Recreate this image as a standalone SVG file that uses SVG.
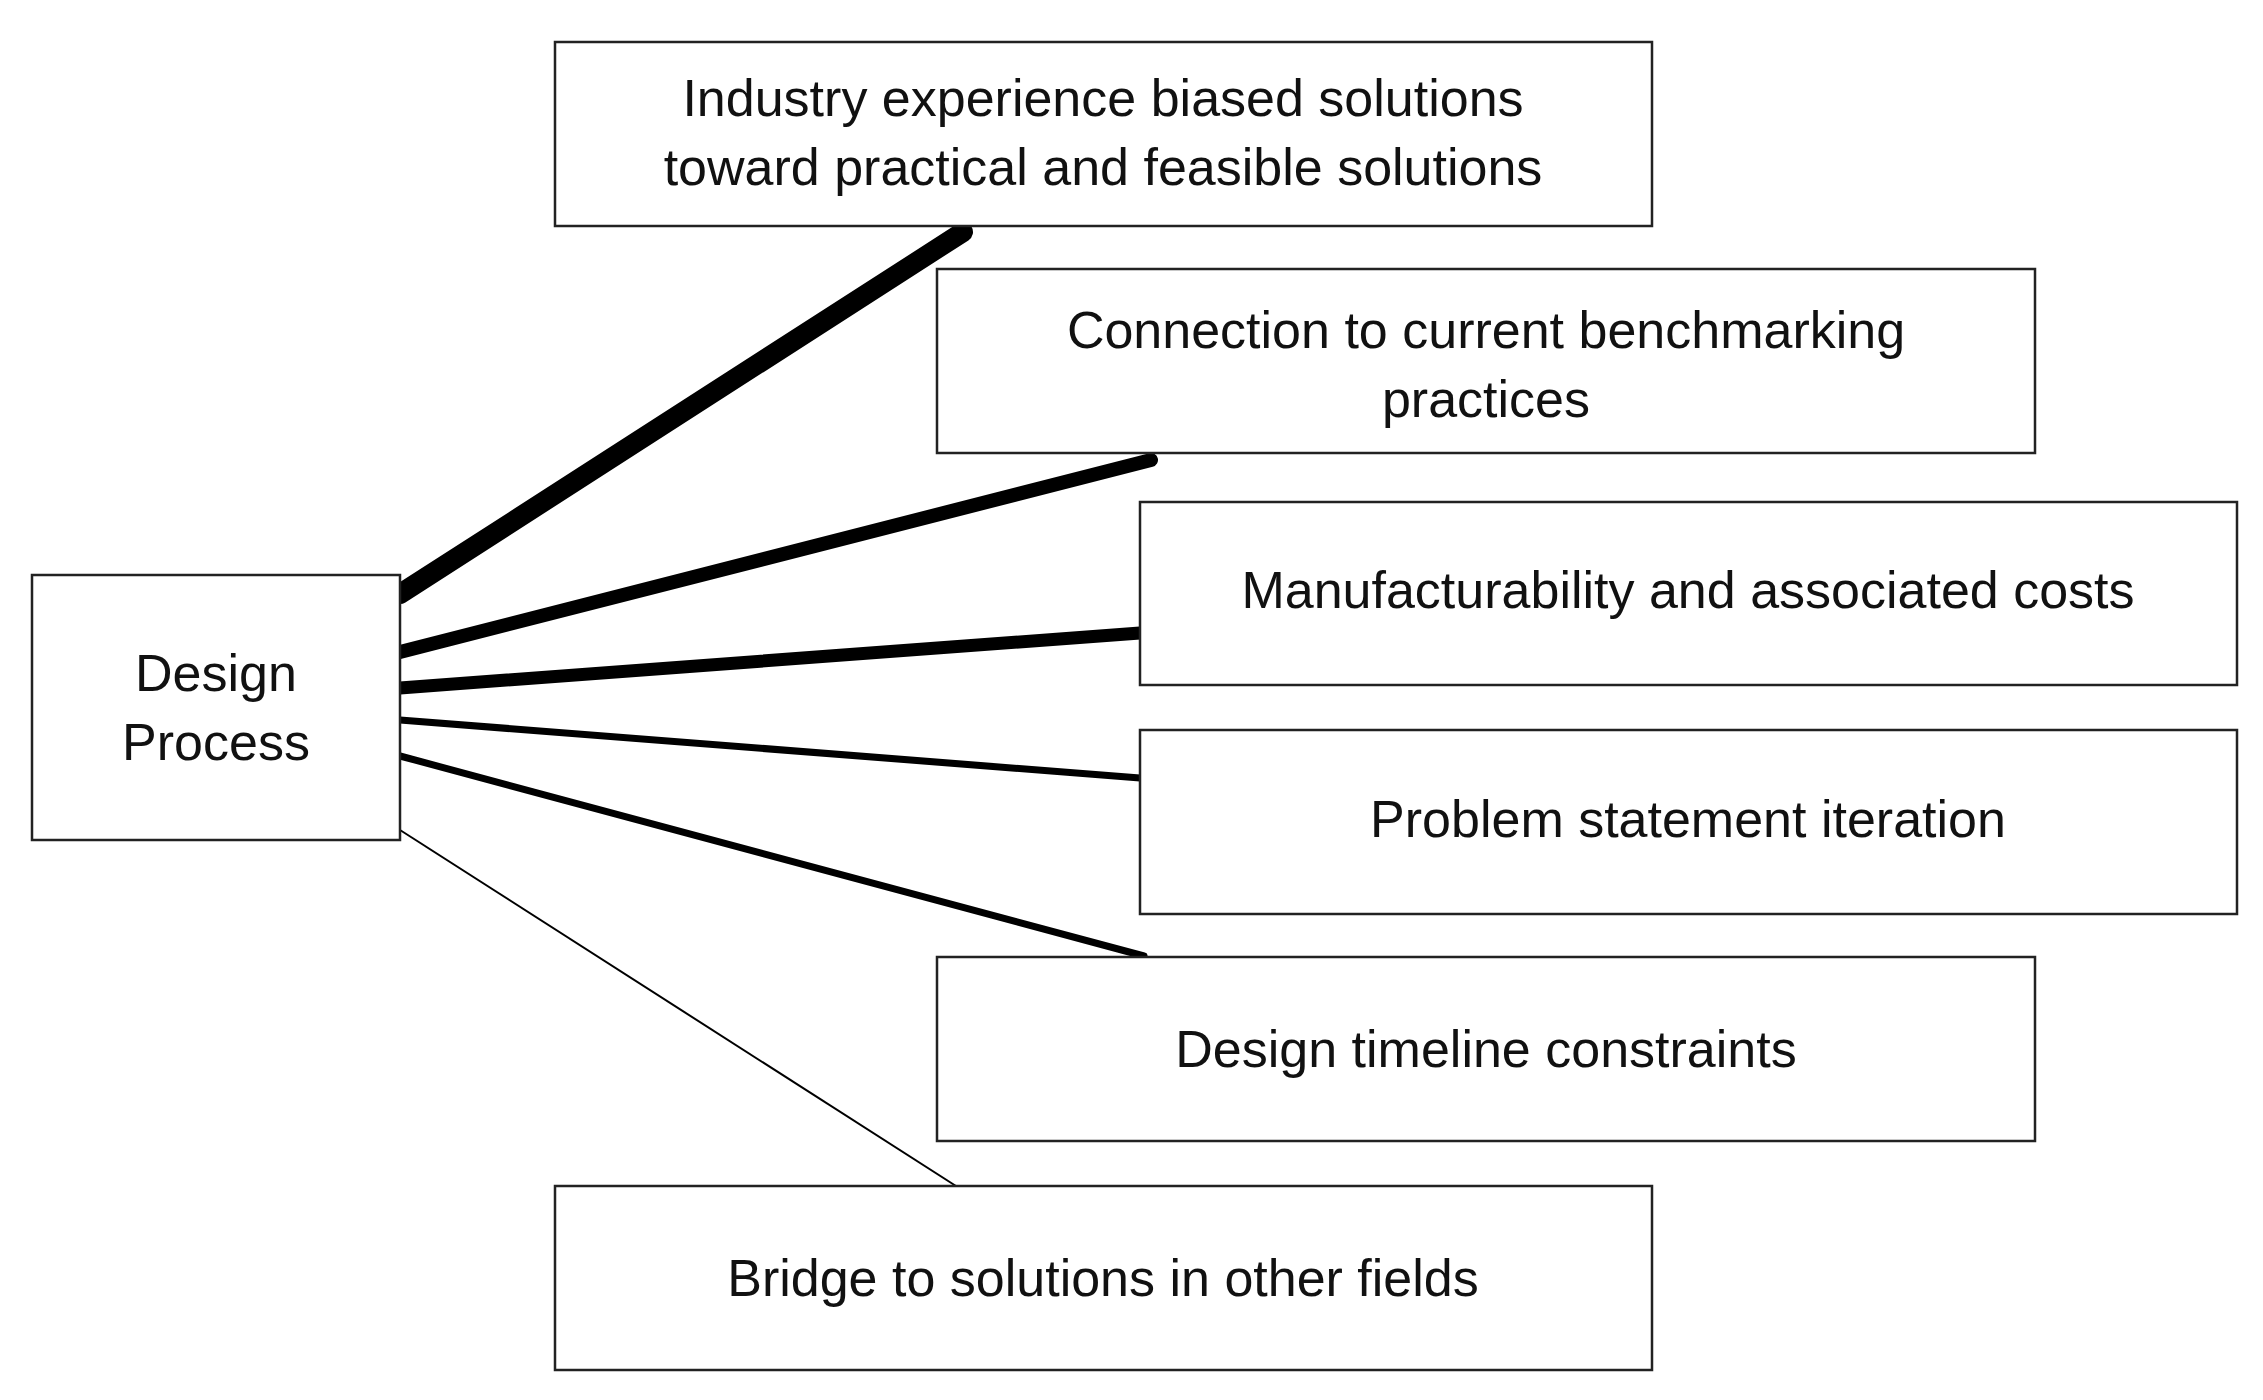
<svg xmlns="http://www.w3.org/2000/svg" width="2263" height="1400" viewBox="0 0 2263 1400">
<style>
rect{fill:#fff;stroke:#222;stroke-width:2.5}
text{font-family:"Liberation Sans",Arial,sans-serif;font-size:52px;fill:#111;text-anchor:middle}
.c line{stroke:#000;stroke-linecap:round}
</style>
<rect width="2263" height="1400" style="stroke:none"/>
<g class="c" id="connectors">
<line x1="400" y1="594" x2="963" y2="232" stroke-width="20"/>
<line x1="400" y1="652" x2="1151" y2="460" stroke-width="14"/>
<line x1="400" y1="688" x2="1140" y2="633" stroke-width="13"/>
<line x1="400" y1="720" x2="1140" y2="778" stroke-width="7"/>
<line x1="400" y1="756" x2="1144" y2="956" stroke-width="7"/>
<line x1="400" y1="830" x2="956" y2="1186" stroke-width="2" style="stroke-linecap:butt"/>
</g>
<g id="design"><rect x="32" y="575" width="368" height="265"/><text x="216" y="691">Design</text><text x="216" y="760">Process</text></g>
<g id="n1"><rect x="555" y="42" width="1097" height="184"/><text x="1103" y="116">Industry experience biased solutions</text><text x="1103" y="185">toward practical and feasible solutions</text></g>
<g id="n2"><rect x="937" y="269" width="1098" height="184"/><text x="1486" y="348">Connection to current benchmarking</text><text x="1486" y="417">practices</text></g>
<g id="n3"><rect x="1140" y="502" width="1097" height="183"/><text x="1688" y="608">Manufacturability and associated costs</text></g>
<g id="n4"><rect x="1140" y="730" width="1097" height="184"/><text x="1688" y="837">Problem statement iteration</text></g>
<g id="n5"><rect x="937" y="957" width="1098" height="184"/><text x="1486" y="1067">Design timeline constraints</text></g>
<g id="n6"><rect x="555" y="1186" width="1097" height="184"/><text x="1103" y="1296">Bridge to solutions in other fields</text></g>
</svg>
